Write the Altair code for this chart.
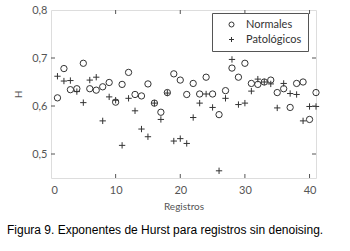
import altair as alt
import pandas as pd

registros = list(range(1, 42))
normales = [0.617, 0.678, 0.634, 0.636, 0.689, 0.636, 0.633, 0.640, 0.649, 0.608,
            0.645, 0.670, 0.624, 0.621, 0.646, 0.606, 0.587, 0.628, 0.667, 0.654,
            0.624, 0.647, 0.625, 0.660, 0.625, 0.582, 0.632, 0.679, 0.660, 0.689,
            0.647, 0.645, 0.650, 0.654, 0.628, 0.636, 0.597, 0.647, 0.650, 0.572,
            0.628]
patologicos = [0.662, 0.652, 0.653, 0.630, 0.607, 0.654, 0.660, 0.569, 0.619, 0.612,
               0.518, 0.616, 0.590, 0.552, 0.536, 0.606, 0.572, 0.627, 0.527, 0.532,
               0.522, 0.576, 0.606, 0.625, 0.597, 0.465, 0.616, 0.697, 0.603, 0.606,
               0.631, 0.656, 0.650, 0.646, 0.596, 0.647, 0.626, 0.624, 0.569, 0.599,
               0.599]
series = ["Normales", "Patológicos"]
x_labels = [0, 10, 20, 30, 40]
y_labels = [0.5, 0.6, 0.7, 0.8]
x_inner_ticks = [10, 20, 30, 40]
y_inner_ticks = [0.5, 0.6, 0.7]

df = pd.DataFrame({
    "Registro": registros * 2,
    "H": normales + patologicos,
    "Serie": [series[0]] * len(normales) + [series[1]] * len(patologicos),
})

W, H = 265, 168
ink = "#333333"
axis_grey = "#555555"
font = "Lato"

xscale = alt.Scale(domain=[0, 41], nice=False, zero=False)
yscale = alt.Scale(domain=[0.45, 0.8], nice=False, zero=False)

x_axis = alt.Axis(values=x_labels, title="Registros", ticks=False, domain=False, grid=False,
                  labelPadding=6, titlePadding=6, labelFont=font, labelFontSize=11,
                  labelColor=axis_grey, titleFont=font, titleFontSize=10,
                  titleFontWeight="normal", titleColor=axis_grey)
y_axis = alt.Axis(values=y_labels, title="H", ticks=False, domain=False, grid=False,
                  labelExpr="replace(format(datum.value, '.1f'), '.', ',')",
                  labelPadding=4, titlePadding=8, labelFont=font, labelFontSize=11,
                  labelColor=axis_grey, titleFont=font, titleFontSize=10,
                  titleFontWeight="normal", titleColor=axis_grey)

points = alt.Chart(df).mark_point(filled=False, strokeWidth=1, size=40, color=ink, opacity=1).encode(
    x=alt.X("Registro:Q", scale=xscale, axis=x_axis),
    y=alt.Y("H:Q", scale=yscale, axis=y_axis),
    shape=alt.Shape("Serie:N",
                    scale=alt.Scale(domain=series, range=["circle", "M-1,0L1,0M0,-1L0,1"]),
                    legend=alt.Legend(orient="none", legendX=161, legendY=3, title=None,
                                      padding=6, strokeColor=axis_grey, fillColor="white",
                                      labelFont=font, labelFontSize=11, labelColor=ink,
                                      symbolSize=25, symbolStrokeWidth=1, symbolStrokeColor=ink,
                                      symbolFillColor="transparent", symbolOffset=8,
                                      labelOffset=9, rowPadding=3,
                                      labelExpr="datum.label + '\u00a0\u00a0\u00a0\u00a0\u00a0'")),
)

xt = pd.DataFrame({"Registro": x_inner_ticks})
yt = pd.DataFrame({"H": y_inner_ticks})

bottom_ticks = alt.Chart(xt).mark_rule(color=axis_grey, strokeWidth=1).encode(
    x=alt.X("Registro:Q", scale=xscale, axis=x_axis), y=alt.value(H), y2=alt.value(H - 4))
top_ticks = alt.Chart(xt).mark_rule(color=axis_grey, strokeWidth=1).encode(
    x=alt.X("Registro:Q", scale=xscale, axis=x_axis), y=alt.value(0), y2=alt.value(4))
left_ticks = alt.Chart(yt).mark_rule(color=axis_grey, strokeWidth=1).encode(
    y=alt.Y("H:Q", scale=yscale, axis=y_axis), x=alt.value(0), x2=alt.value(4))
right_ticks = alt.Chart(yt).mark_rule(color=axis_grey, strokeWidth=1).encode(
    y=alt.Y("H:Q", scale=yscale, axis=y_axis), x=alt.value(W), x2=alt.value(W - 4))

chart = alt.layer(points, bottom_ticks, top_ticks, left_ticks, right_ticks).properties(
    width=W, height=H,
    autosize=alt.AutoSizeParams(type="none"),
    padding={"left": 51, "top": 10, "right": 34, "bottom": 73},
    title=alt.TitleParams(text="Figura 9. Exponentes de Hurst para registros sin denoising.",
                          orient="bottom", anchor="start", frame="group", dx=-44, offset=14,
                          font="Liberation Sans", fontSize=12, fontWeight="normal", color="black"),
).configure_view(stroke=axis_grey, strokeWidth=1).configure(background="white")

chart.save("out.html", embed_options={"renderer": "svg", "actions": False})
